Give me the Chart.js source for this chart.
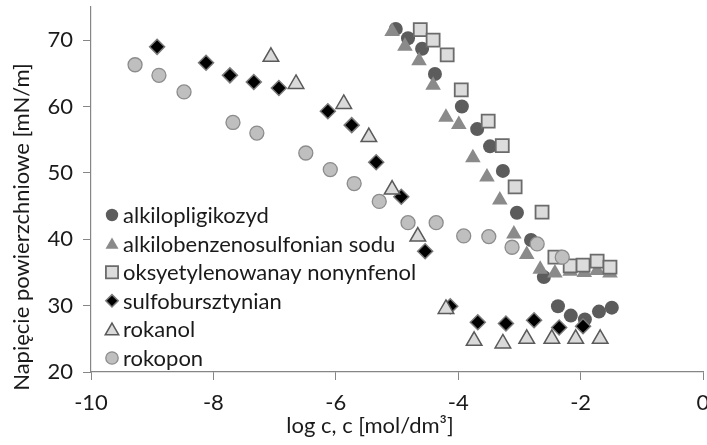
<!DOCTYPE html>
<html lang="pl">

<head>
    <meta charset="UTF-8">
    <title>Napięcie powierzchniowe</title>
    <script src="https://cdn.jsdelivr.net/npm/chart.js@4.4.1/dist/chart.umd.min.js"></script>
    <style>
        html, body { margin: 0; padding: 0; background: #fff; }
        #wrap { width: 707px; height: 445px; }
    </style>
</head>

<body>
    <div id="wrap"><canvas id="chart" width="707" height="445"></canvas></div>

    <script>
        // series names (legend order)
        var names = ['alkilopligikozyd', 'alkilobenzenosulfonian sodu', 'oksyetylenowanay nonynfenol',
            'sulfobursztynian', 'rokanol', 'rokopon'];

        // log c values and surface tension [mN/m]
        var alkiloX = [-5.02, -4.82, -4.59, -4.38, -3.94, -3.69, -3.48, -3.27, -3.04, -2.81, -2.60, -2.37, -2.16, -1.93, -1.70, -1.49];
        var alkiloY = [71.7, 70.3, 68.7, 64.9, 60.0, 56.6, 54.0, 50.3, 44.0, 39.9, 34.3, 29.9, 28.5, 27.9, 29.1, 29.7];

        var benzX = [-5.08, -4.87, -4.64, -4.41, -4.20, -3.99, -3.76, -3.53, -3.32, -3.09, -2.88, -2.66, -2.42, -2.17, -1.94, -1.73, -1.52];
        var benzY = [71.3, 69.1, 66.9, 63.2, 58.4, 57.3, 52.3, 49.4, 45.9, 40.8, 37.7, 35.5, 34.9, 35.2, 35.0, 35.3, 34.9];

        var nonylX = [-4.62, -4.41, -4.18, -3.95, -3.51, -3.28, -3.07, -2.63, -2.42, -2.17, -1.96, -1.73, -1.52];
        var nonylY = [71.6, 70.0, 67.8, 62.5, 57.8, 54.1, 47.9, 44.1, 37.3, 36.0, 36.1, 36.7, 35.8];

        var sulfoX = [-8.92, -8.12, -7.73, -7.34, -6.93, -6.13, -5.74, -5.34, -4.93, -4.54, -4.13, -3.68, -3.22, -2.76, -2.35, -1.96];
        var sulfoY = [69.0, 66.6, 64.7, 63.7, 62.8, 59.3, 57.2, 51.6, 46.4, 38.2, 29.9, 27.5, 27.3, 27.8, 26.7, 26.9];

        var rokanolX = [-7.06, -6.65, -5.87, -5.46, -5.08, -4.66, -4.20, -3.74, -3.27, -2.88, -2.47, -2.08, -1.68];
        var rokanolY = [67.5, 63.4, 60.4, 55.4, 47.5, 40.4, 29.5, 24.7, 24.3, 25.0, 25.0, 25.0, 25.0];

        var rokoponX = [-9.28, -8.89, -8.48, -7.68, -7.29, -6.49, -6.09, -5.70, -5.29, -4.82, -4.36, -3.91, -3.50, -3.12, -2.71, -2.30];
        var rokoponY = [66.3, 64.7, 62.2, 57.6, 56.0, 53.0, 50.5, 48.4, 45.7, 42.5, 42.5, 40.5, 40.4, 38.8, 39.3, 37.3];

        var xTicks = [-10, -8, -6, -4, -2, 0];
        var yTicks = [20, 30, 40, 50, 60, 70];

        var xTitle = 'log c, c [mol/dm³]';
        var yTitle = 'Napięcie powierzchniowe [mN/m]';

        function pts(xs, ys) {
            return xs.map(function (x, i) { return { x: x, y: ys[i] }; });
        }

        var styles = [
            { pointStyle: 'circle', radius: 7, bg: '#5c5c5c', border: '#5c5c5c', bw: 0 },
            { pointStyle: 'triangle', radius: 9, bg: '#8a8a8a', border: '#8a8a8a', bw: 0 },
            { pointStyle: 'rect', radius: 9.2, bg: '#dcdcdc', border: '#6b6b6b', bw: 1.8 },
            { pointStyle: 'rectRot', radius: 7.5, bg: '#000000', border: '#7a7a7a', bw: 1.5 },
            { pointStyle: 'triangle', radius: 9, bg: '#dadada', border: '#5a5a5a', bw: 1.5 },
            { pointStyle: 'circle', radius: 7, bg: '#bfbfbf', border: '#8c8c8c', bw: 1.3 }
        ];

        var series = [pts(alkiloX, alkiloY), pts(benzX, benzY), pts(nonylX, nonylY),
            pts(sulfoX, sulfoY), pts(rokanolX, rokanolY), pts(rokoponX, rokoponY)];

        var datasets = series.map(function (d, i) {
            var s = styles[i];
            return {
                label: names[i],
                data: d,
                // later series drawn on top, like the original
                order: names.length - i,
                pointStyle: s.pointStyle,
                pointRadius: s.radius,
                pointHoverRadius: s.radius,
                pointBackgroundColor: s.bg,
                pointBorderColor: s.border,
                pointBorderWidth: s.bw,
                showLine: false,
                clip: false
            };
        });

        function marker(ctx, style, x, y, r) {
            ctx.beginPath();
            if (style === 'circle') {
                ctx.arc(x, y, r, 0, Math.PI * 2);
            } else if (style === 'triangle') {
                ctx.moveTo(x, y - r);
                ctx.lineTo(x + r * 0.866, y + r * 0.5);
                ctx.lineTo(x - r * 0.866, y + r * 0.5);
            } else if (style === 'rect') {
                ctx.rect(x - r * 0.707, y - r * 0.707, r * 1.414, r * 1.414);
            } else {
                ctx.moveTo(x - r, y);
                ctx.lineTo(x, y - r);
                ctx.lineTo(x + r, y);
                ctx.lineTo(x, y + r);
            }
            ctx.closePath();
        }

        // legend inside the plot + the two axis titles
        var extras = {
            id: 'extras',
            afterDraw: function (chart) {
                var ctx = chart.ctx;
                var sizes = [6.2, 7.5, 8.6, 6.2, 7.8, 6.2];
                ctx.save();
                ctx.font = '22px Lato';
                ctx.fillStyle = '#1a1a1a';
                ctx.textBaseline = 'middle';
                names.forEach(function (n, i) {
                    var s = styles[i];
                    var y = 215 + i * 28.6;
                    var my = s.pointStyle === 'triangle' ? y + 1.5 : y;
                    marker(ctx, s.pointStyle, 112, my, sizes[i]);
                    ctx.fillStyle = s.bg;
                    ctx.fill();
                    if (s.bw > 0) {
                        ctx.lineWidth = s.bw;
                        ctx.strokeStyle = s.border;
                        ctx.stroke();
                    }
                    ctx.fillStyle = '#1a1a1a';
                    ctx.textAlign = 'left';
                    ctx.fillText(n, 123, y + 1);
                });

                ctx.textBaseline = 'alphabetic';
                ctx.textAlign = 'center';
                ctx.fillText(xTitle, 370, 433);

                ctx.translate(29, 227);
                ctx.rotate(-Math.PI / 2);
                ctx.fillText(yTitle, 0, 0);
                ctx.restore();
            }
        };

        Chart.defaults.font.family = 'Lato';
        Chart.defaults.font.size = 22;
        Chart.defaults.color = '#1a1a1a';

        var axisGray = '#868686';

        new Chart(document.getElementById('chart').getContext('2d'), {
            type: 'scatter',
            data: { datasets: datasets },
            plugins: [extras],
            options: {
                responsive: false,
                animation: false,
                events: [],
                layout: { autoPadding: false, padding: { top: 7, right: 4, left: 0, bottom: 0 } },
                plugins: {
                    legend: { display: false },
                    tooltip: { enabled: false }
                },
                scales: {
                    x: {
                        type: 'linear',
                        min: -10,
                        max: 0,
                        afterBuildTicks: function (s) {
                            s.ticks = xTicks.map(function (v) { return { value: v }; });
                        },
                        afterFit: function (s) {
                            s.height = 73;
                            s.paddingLeft = 0;
                            s.paddingRight = 0;
                        },
                        grid: { drawOnChartArea: false, drawTicks: true, tickLength: 8, color: axisGray },
                        border: { display: true, color: axisGray, width: 1.2 },
                        ticks: { padding: 10, maxRotation: 0, autoSkip: false }
                    },
                    y: {
                        type: 'linear',
                        min: 20,
                        max: 75,
                        afterBuildTicks: function (s) {
                            s.ticks = yTicks.map(function (v) { return { value: v }; });
                        },
                        afterFit: function (s) {
                            s.width = 91;
                            s.paddingTop = 0;
                            s.paddingBottom = 0;
                        },
                        grid: { drawOnChartArea: false, drawTicks: true, tickLength: 8, color: axisGray },
                        border: { display: true, color: axisGray, width: 1.2 },
                        ticks: { padding: 10, autoSkip: false }
                    }
                }
            }
        });
    </script>
</body>

</html>
